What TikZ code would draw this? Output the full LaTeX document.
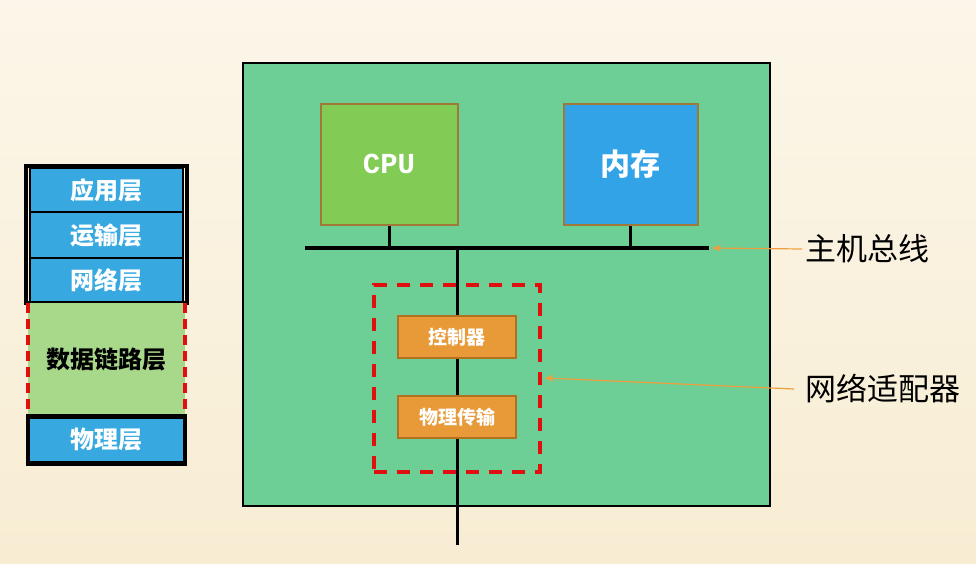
\documentclass[tikz,border=0pt]{standalone}
\usepackage{fontspec}
\newfontfamily\cjk{Noto Sans CJK SC}
\newfontfamily\cpufont{Liberation Mono}
\usetikzlibrary{arrows.meta}
\definecolor{bgtop}{HTML}{FBF6E9}
\definecolor{bgbot}{HTML}{F8EDD3}
\definecolor{boardgreen}{HTML}{6DCF95}
\definecolor{cpugreen}{HTML}{82CB55}
\definecolor{memblue}{HTML}{33A3E8}
\definecolor{boxborder}{HTML}{A07838}
\definecolor{layerblue}{HTML}{38A9E0}
\definecolor{dlgreen}{HTML}{A8D88A}
\definecolor{nicorange}{HTML}{E89A38}
\definecolor{nicborder}{HTML}{B07020}
\definecolor{dashred}{HTML}{E01010}
\definecolor{arroworange}{HTML}{F0A040}
\tikzset{
  layercell/.style={draw=black, line width=2pt, fill=layerblue, text=white,
    minimum width=153pt, inner sep=0pt, font=\cjk\bfseries\fontsize{24}{26}\selectfont},
  chip/.style={draw=boxborder, line width=2pt, inner sep=0pt, text=white},
  nicpart/.style={draw=nicborder, line width=1.5pt, fill=nicorange, text=white,
    minimum width=118pt, minimum height=42pt, inner sep=0pt,
    font=\cjk\bfseries\fontsize{19}{21}\selectfont},
  bus/.style={line width=4pt, black},
  label/.style={font=\cjk\fontsize{31}{33}\selectfont, text=black, inner sep=3pt, anchor=west},
  pointer/.style={draw=arroworange, line width=1.2pt, -{Stealth[length=9pt,width=7pt]}},
}
\begin{document}
\begin{tikzpicture}[x=1pt,y=-1pt]
\useasboundingbox (0,0) rectangle (976,563);
\shade[top color=bgtop, bottom color=bgbot] (0,0) rectangle (976,563);

% ---- protocol stack ----
\node[layercell, minimum height=44pt] (app) at (106.5,190) {应用层};
\node[layercell, minimum height=46pt] (trans) at (106.5,235) {运输层};
\node[layercell, minimum height=45pt] (net) at (106.5,280.5) {网络层};
\draw[line width=4.5pt] (26,166) rectangle (187,303);
\node[fill=dlgreen, minimum width=157pt, minimum height=112pt, inner sep=0pt,
      font=\cjk\bfseries\fontsize{24}{26}\selectfont] (dl) at (106.5,359) {数据链路层};
\draw[dashred, line width=3.5pt, dash pattern=on 10pt off 6pt] (dl.north west) -- (dl.south west);
\draw[dashred, line width=3.5pt, dash pattern=on 10pt off 6pt] (dl.north east) -- (dl.south east);
\node[layercell, line width=4.5pt, minimum width=157pt, minimum height=47pt] (phy) at (106.5,440) {物理层};

% ---- host board ----
\node[draw=black, line width=1.5pt, fill=boardgreen, minimum width=527pt, minimum height=443pt, inner sep=0pt] (board) at (506.5,284.5) {};
\node[chip, fill=cpugreen, minimum width=137pt, minimum height=121pt,
      font=\cpufont\bfseries\fontsize{29}{31}\selectfont] (cpu) at (389,164) {CPU};
\node[chip, fill=memblue, minimum width=134pt, minimum height=121pt,
      font=\cjk\bfseries\fontsize{30}{32}\selectfont] (mem) at (630.5,164) {内存};

\coordinate (busL) at (305,248);
\coordinate (busR) at (709,248);
\draw[bus, line cap=butt] (busL) -- (busR);
\draw[line width=3pt] (cpu.south) -- (cpu.south |- busL);
\draw[line width=3pt] (mem.south) -- (mem.south |- busL);

% network adapter
\node[draw=dashred, line width=4pt, dash pattern=on 13pt off 10pt, minimum width=166pt, minimum height=187pt, inner sep=0pt] (nic) at (456.5,378) {};
\coordinate (vtop) at (457,248);
\coordinate (vbot) at (457,545);
\draw[line width=3pt] (vtop) -- (vbot);
\node[nicpart] (ctrl) at (457,337) {控制器};
\node[nicpart] (phys) at (457,417) {物理传输};

% ---- labels ----
\node[label] (buslabel) at (802,249) {主机总线};
\node[label] (niclabel) at (802,389) {网络适配器};
\draw[pointer] (buslabel.west) -- ([xshift=3pt]busR);
\draw[pointer] ([xshift=-8pt]niclabel.west) -- ([xshift=3pt]nic.east);
\end{tikzpicture}
\end{document}
